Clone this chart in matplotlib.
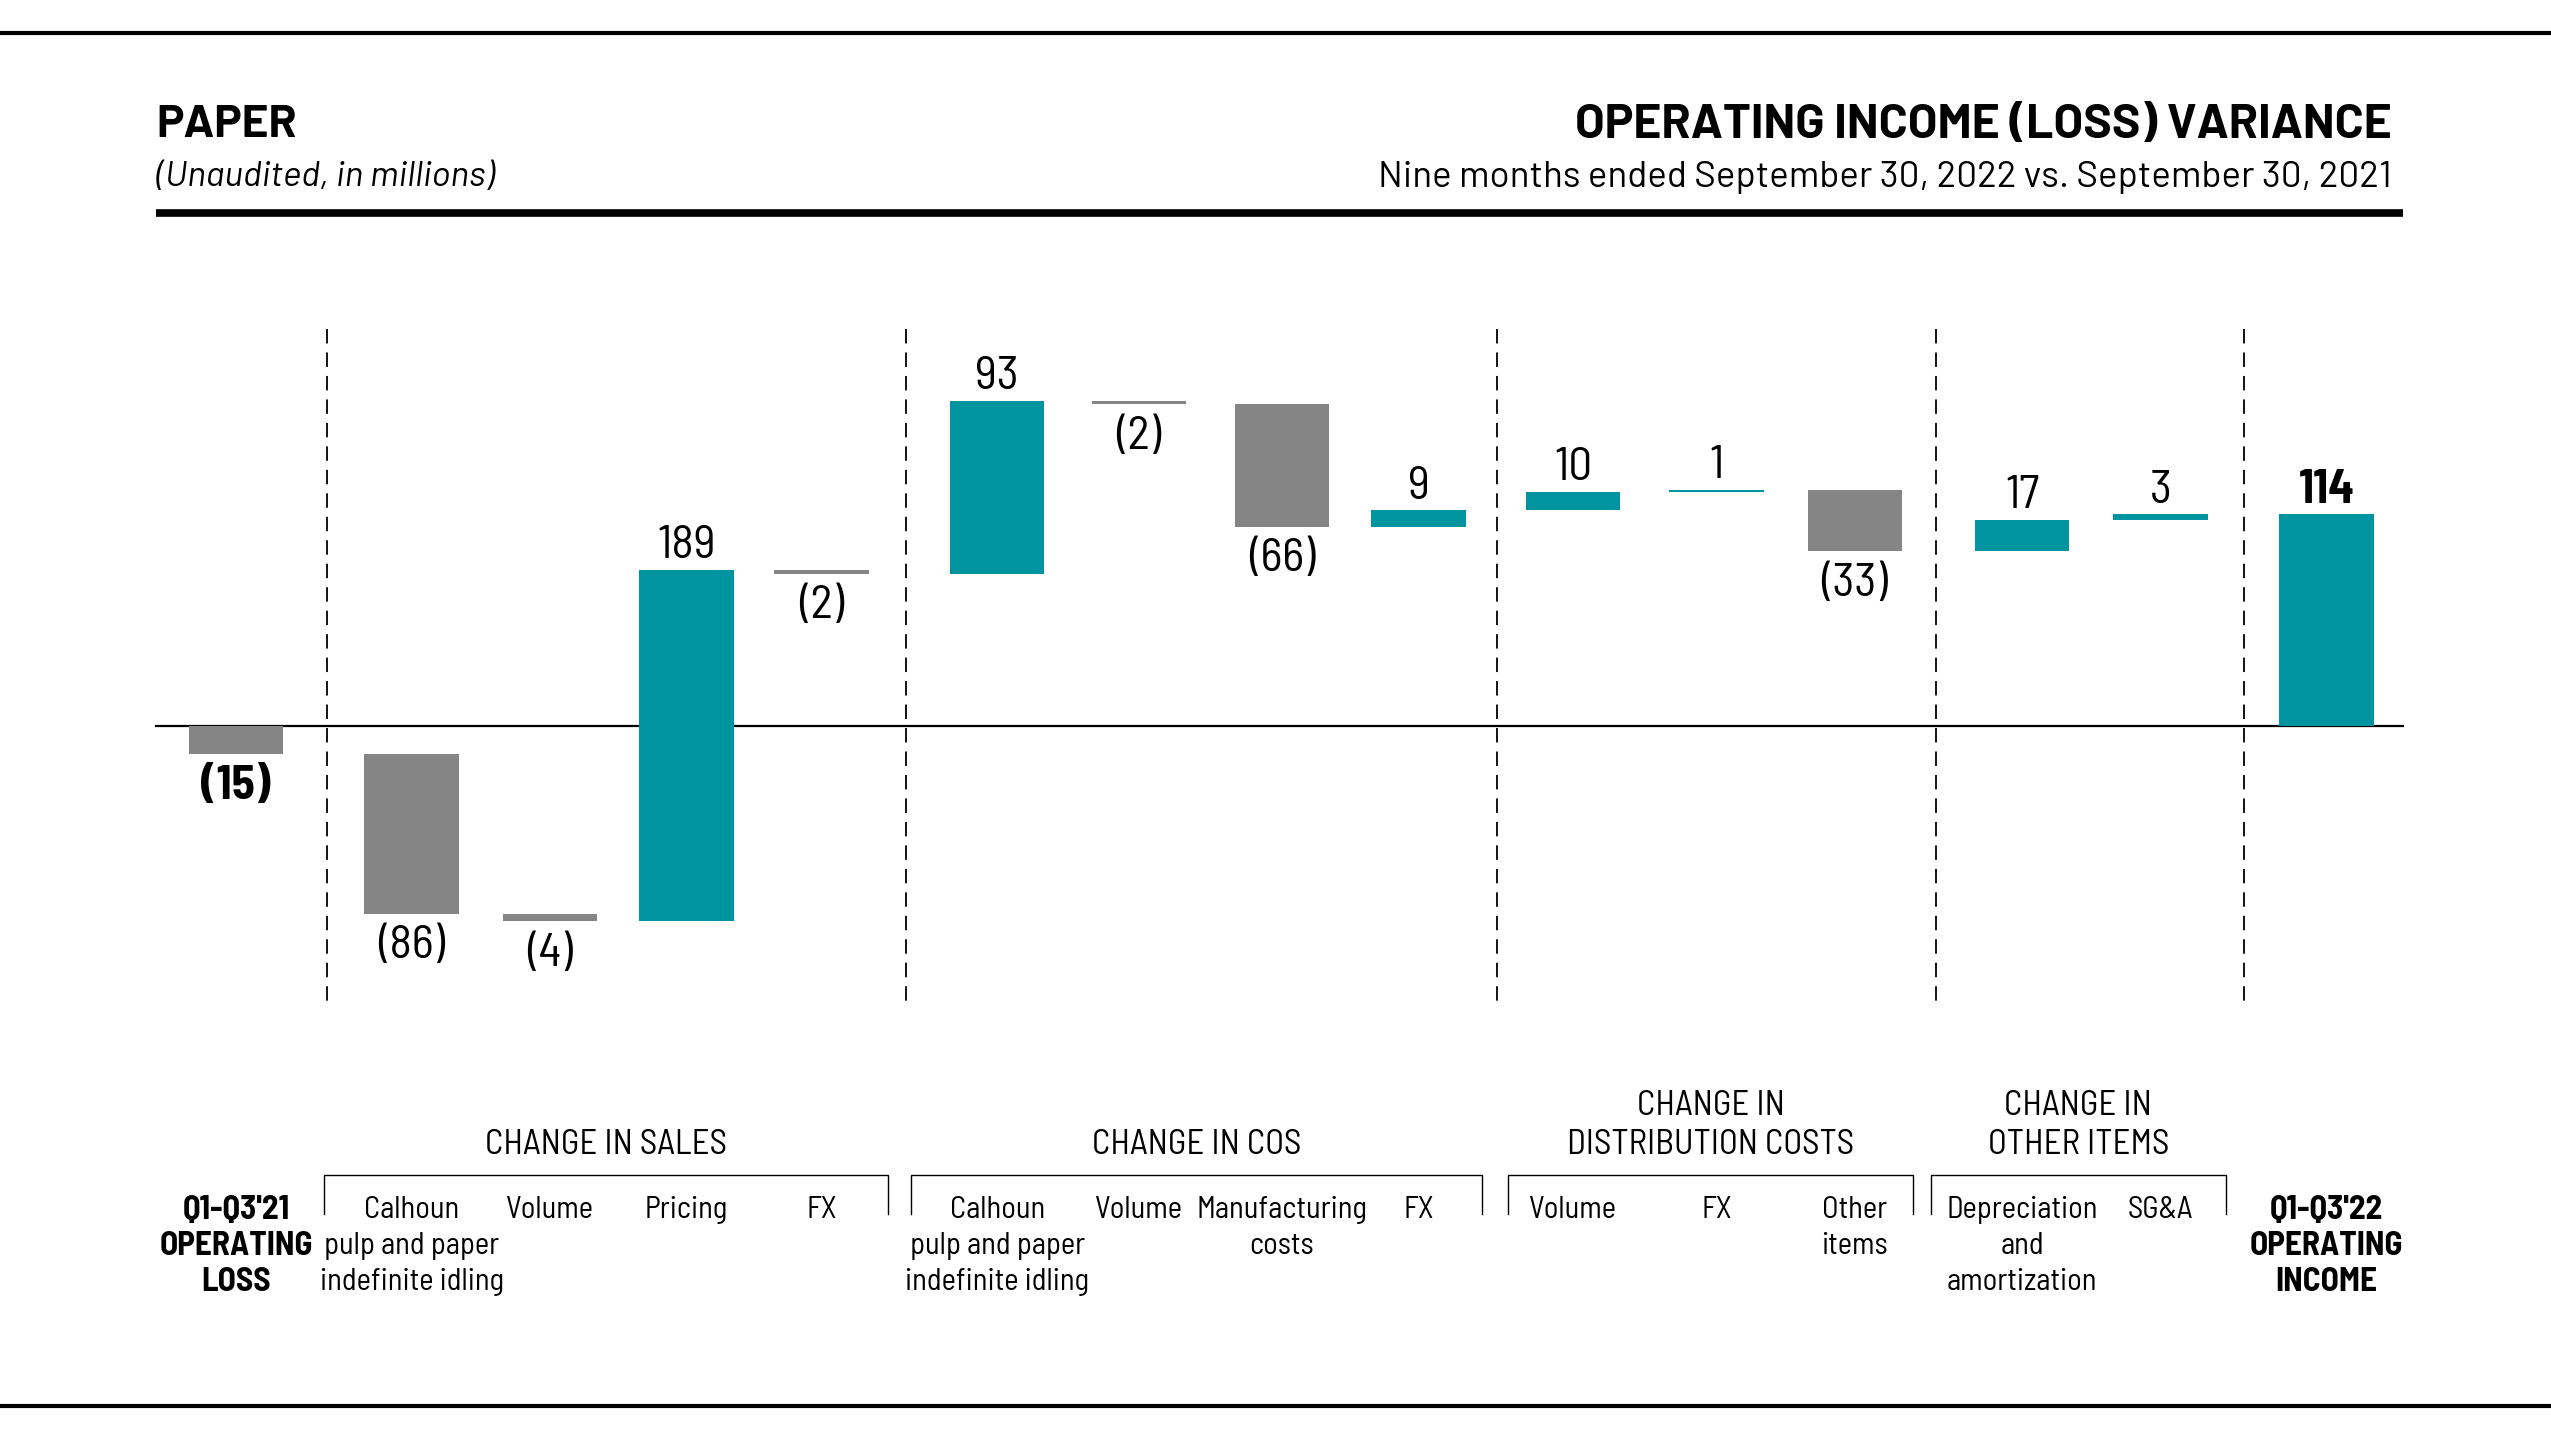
import matplotlib
matplotlib.use("Agg")
import matplotlib.pyplot as plt
import numpy as np

plt.rcParams['font.family'] = ['Barlow Semi Condensed', 'Lato', 'DejaVu Sans']
HEAD_FONT = ['Barlow', 'Lato', 'DejaVu Sans']

# data (in millions)
categories = ["Q1-Q3'21\nOPERATING\nLOSS",
              "Calhoun\npulp and paper\nindefinite idling", "Volume", "Pricing", "FX",
              "Calhoun\npulp and paper\nindefinite idling", "Volume", "Manufacturing\ncosts", "FX",
              "Volume", "FX", "Other\nitems",
              "Depreciation\nand\namortization", "SG&A",
              "Q1-Q3'22\nOPERATING\nINCOME"]
values = [-15, -86, -4, 189, -2, 93, -2, -66, 9, 10, 1, -33, 17, 3, 114]
is_total = [True] + [False] * 13 + [True]
group_names = ["CHANGE IN SALES", "CHANGE IN COS",
               "CHANGE IN\nDISTRIBUTION COSTS", "CHANGE IN\nOTHER ITEMS"]
group_members = [(1, 4), (5, 8), (9, 11), (12, 13)]

TEAL = '#0094a0'
GRAY = '#858585'

# layout, in units of a 1568 x 881 canvas
W, H = 1568, 881
ZERO_Y = 446
PX_PER_UNIT = 1.142
xpos = [145, 253, 338, 422, 505, 613, 700, 788, 872, 967, 1055, 1140, 1243, 1328, 1430]
bar_w = 58
separators = [201, 557, 920, 1190, 1379]
brackets = [(199, 546), (560, 911), (927, 1176), (1187, 1368)]


def yv(py):
    # canvas y -> data value
    return (ZERO_Y - py) / PX_PER_UNIT


fig = plt.figure(figsize=(25.51, 14.34), dpi=100)
ax = fig.add_axes([0, 0, 1, 1])
ax.set_xlim(0, W)
ax.set_ylim(yv(H), yv(0))
ax.axis('off')

# waterfall
bottoms = []
run = 0
for v, tot in zip(values, is_total):
    if tot:
        bottoms.append(0)
        run = v
    else:
        bottoms.append(run)
        run += v
colors = [TEAL if v > 0 else GRAY for v in values]
ax.bar(xpos, values, bottom=bottoms, width=bar_w, color=colors, linewidth=0, zorder=3)

for x, v, b, tot in zip(xpos, values, bottoms, is_total):
    lbl = f"{v}" if v > 0 else f"({-v})"
    fw = 'bold' if tot else 'normal'
    if v > 0:
        ax.text(x, b + v + 7 / PX_PER_UNIT, lbl, ha='center', va='baseline',
                fontsize=34, fontweight=fw, zorder=4)
    else:
        ax.text(x, b + v - 7 / PX_PER_UNIT, lbl, ha='center', va='top',
                fontsize=34, fontweight=fw, zorder=4)

# zero line and separators
ax.plot([96, 1477], [0, 0], color='black', lw=1.6, zorder=2)
for sx in separators:
    ax.plot([sx, sx], [yv(202), yv(615)], color='black', lw=1.3,
            linestyle=(0, (8, 5)), zorder=1)

# category labels
for i, (x, c) in enumerate(zip(xpos, categories)):
    if is_total[i]:
        ax.text(x, yv(734), c, ha='center', va='top', fontsize=24, fontweight='bold',
                linespacing=1.25, multialignment='center')
    else:
        ax.text(x, yv(735), c, ha='center', va='top', fontsize=22,
                linespacing=1.36, multialignment='center')

# group brackets and titles
for (x0, x1), name in zip(brackets, group_names):
    ax.plot([x0, x0, x1, x1], [yv(746), yv(722), yv(722), yv(746)],
            color='black', lw=1.0, solid_joinstyle='miter')
    ax.text((x0 + x1) / 2, yv(713), name, ha='center', va='bottom',
            fontsize=25, linespacing=1.25, multialignment='center')

# header
ax.plot([0, W], [yv(20), yv(20)], color='black', lw=3, clip_on=False)
ax.plot([0, W], [yv(864), yv(864)], color='black', lw=3, clip_on=False)
ax.plot([96, 1477], [yv(131), yv(131)], color='black', lw=5.5, solid_capstyle='butt')
ax.text(96, yv(77), "PAPER", ha='left', va='center', fontsize=33,
        fontweight='bold', family=HEAD_FONT)
ax.text(96, yv(109), "(Unaudited, in millions)", ha='left', va='center',
        fontsize=25.5, style='italic', family=HEAD_FONT)
ax.text(1470, yv(77), "OPERATING INCOME (LOSS) VARIANCE", ha='right', va='center',
        fontsize=34.5, fontweight='bold', family=HEAD_FONT)
ax.text(1470, yv(109), "Nine months ended September 30, 2022 vs. September 30, 2021",
        ha='right', va='center', fontsize=26.5, family=HEAD_FONT)

fig.savefig('out.png', dpi=100)
